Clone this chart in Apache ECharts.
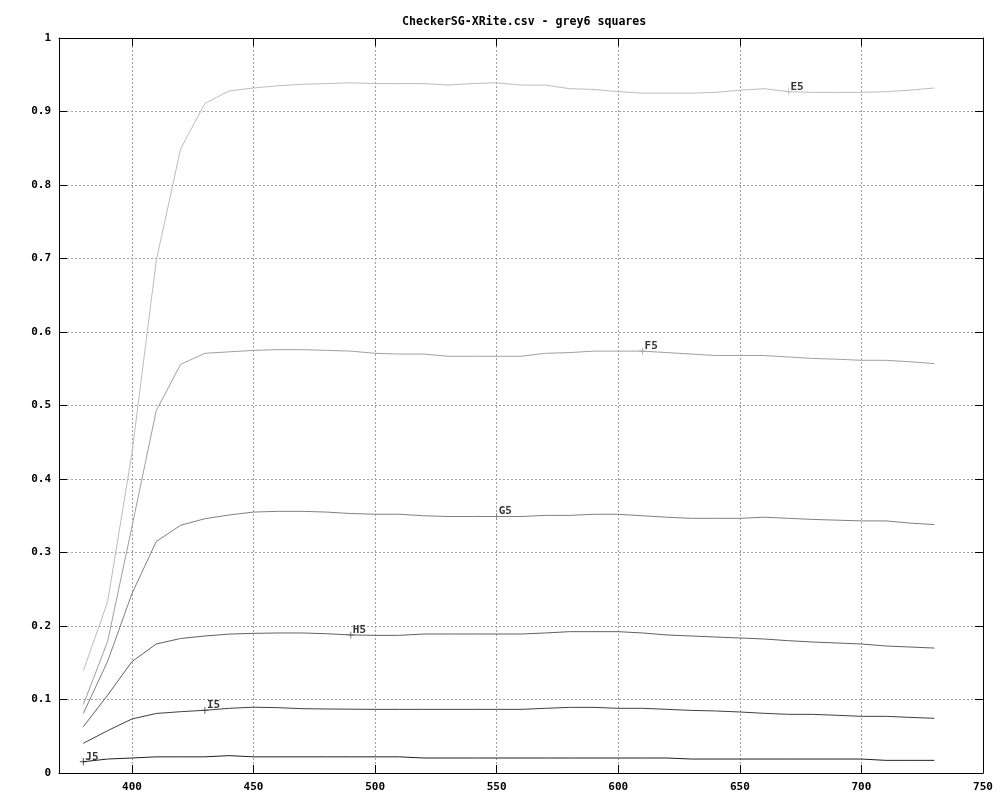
<!DOCTYPE html>
<html><head><meta charset="utf-8">
<script src="https://cdn.jsdelivr.net/npm/echarts@6/dist/echarts.min.js"></script>
<style>html,body{margin:0;background:#fff}#c{width:1000px;height:800px}</style>
</head><body><div id="c"></div>
<script>
const titleText = 'CheckerSG-XRite.csv - grey6 squares';
const wavelengths = [380,390,400,410,420,430,440,450,460,470,480,490,500,510,520,530,540,550,560,570,580,590,600,610,620,630,640,650,660,670,680,690,700,710,720,730];
const xTicks = [400,450,500,550,600,650,700,750];
const seriesNames = ['E5','F5','G5','H5','I5','J5'];
const E5 = [0.139,0.233,0.435,0.697,0.849,0.911,0.928,0.932,0.935,0.937,0.938,0.939,0.938,0.938,0.938,0.936,0.938,0.939,0.936,0.936,0.931,0.930,0.927,0.925,0.925,0.925,0.926,0.929,0.931,0.927,0.926,0.926,0.926,0.927,0.929,0.932];
const F5 = [0.093,0.179,0.335,0.493,0.556,0.571,0.573,0.575,0.576,0.576,0.575,0.574,0.571,0.570,0.570,0.567,0.567,0.567,0.567,0.571,0.572,0.574,0.574,0.574,0.572,0.570,0.568,0.568,0.568,0.566,0.564,0.563,0.5615,0.5615,0.5595,0.557];
const G5 = [0.081,0.152,0.244,0.315,0.337,0.346,0.351,0.355,0.356,0.356,0.355,0.353,0.352,0.352,0.350,0.349,0.349,0.349,0.349,0.3505,0.3505,0.352,0.352,0.350,0.348,0.3465,0.3465,0.3465,0.348,0.3465,0.345,0.344,0.343,0.343,0.340,0.338];
const H5 = [0.063,0.106,0.1515,0.1755,0.183,0.1864,0.189,0.190,0.1905,0.1905,0.1895,0.1878,0.1873,0.1873,0.1891,0.1891,0.1891,0.1891,0.1891,0.1905,0.1923,0.1923,0.1923,0.1905,0.1878,0.1864,0.185,0.1837,0.1823,0.180,0.1782,0.1769,0.1755,0.1728,0.1714,0.170];
const I5 = [0.0404,0.0576,0.0735,0.081,0.0834,0.0853,0.088,0.0895,0.0889,0.0875,0.0871,0.0868,0.0866,0.0866,0.0866,0.0866,0.0866,0.0866,0.0866,0.088,0.0893,0.0893,0.088,0.088,0.0866,0.0852,0.0844,0.083,0.0812,0.0798,0.0798,0.0785,0.0771,0.0771,0.0757,0.0744];
const J5 = [0.0154,0.019,0.0204,0.022,0.022,0.022,0.0236,0.022,0.022,0.022,0.022,0.022,0.022,0.022,0.0204,0.0204,0.0204,0.0204,0.0204,0.0204,0.0204,0.0204,0.0204,0.0204,0.0204,0.019,0.019,0.019,0.019,0.019,0.019,0.019,0.019,0.0172,0.0172,0.0172];
const labelWavelengths = [670,610,550,490,430,380];
const seriesColors = ['#bdbdbd','#a0a0a0','#808080','#606060','#404040','#202020'];

const allValues = [E5,F5,G5,H5,I5,J5];
const font = {fontFamily:'DejaVu Sans Mono', fontSize:11, fontWeight:'bold', color:'#000'};
const series = [];
seriesNames.forEach((name,k)=>{
  const vals = allValues[k];
  series.push({type:'line', name, data: wavelengths.map((w,i)=>[w,vals[i]]), symbol:'none',
    lineStyle:{color:seriesColors[k], width:1}, silent:true, z:2});
  const li = wavelengths.indexOf(labelWavelengths[k]);
  series.push({type:'scatter', name:name+'-lab', data:[[wavelengths[li], vals[li]]],
    symbol:'path://M0,-4L0,4M-4,0L4,0', symbolSize:7,
    itemStyle:{color:'none', borderColor:seriesColors[k], borderWidth:1},
    label:{show:true, position:'right', distance:0, offset:[-4,-5], formatter:name, ...font},
    silent:true, z:3});
});

const axisCommonX = {type:'value', min:370, max:750,
  axisLine:{show:true, onZero:false, lineStyle:{color:'#000', width:1}},
  axisTick:{show:true, inside:true, length:8, customValues:xTicks, lineStyle:{color:'#000'}}};
const axisCommonY = {type:'value', min:0, max:1, interval:0.1,
  axisLine:{show:true, onZero:false, lineStyle:{color:'#000', width:1}},
  axisTick:{show:true, inside:true, length:8, lineStyle:{color:'#000'}}};

const option = {
  animation:false,
  backgroundColor:'#fff',
  title:{text:titleText, left:397, top:11, textStyle:{...font, fontSize:11.6}},
  grid:{left:59, right:17, top:38, bottom:27, containLabel:false},
  xAxis:[
    {...axisCommonX, position:'bottom',
      axisLabel:{show:true, customValues:xTicks, margin:9, ...font},
      splitLine:{show:true, lineStyle:{color:'#a0a0a0', type:[2,2], width:1}}},
    {...axisCommonX, position:'top', axisLabel:{show:false}, splitLine:{show:false}}
  ],
  yAxis:[
    {...axisCommonY, position:'left',
      axisLabel:{show:true, margin:8, formatter:v=>String(+v.toFixed(1)), ...font},
      splitLine:{show:true, lineStyle:{color:'#a0a0a0', type:[2,2], width:1}}},
    {...axisCommonY, position:'right', axisLabel:{show:false}, splitLine:{show:false}}
  ],
  series
};
const chart = echarts.init(document.getElementById('c'), null, {renderer:'canvas'});
chart.setOption(option);
</script>
</body></html>
